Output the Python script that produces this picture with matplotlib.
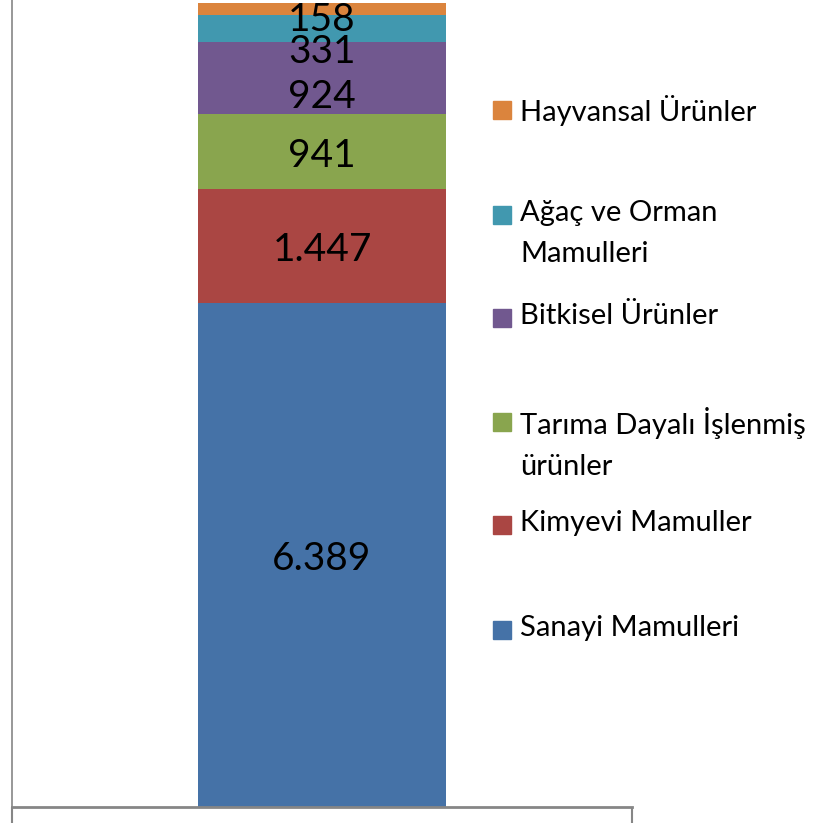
import matplotlib.pyplot as plt
from matplotlib.patches import Rectangle

plt.rcParams['font.family'] = ['Lato', 'DejaVu Sans']

# data, bottom to top
categories = ['Sanayi Mamulleri', 'Kimyevi Mamuller', 'Tarıma Dayalı İşlenmiş\nürünler',
              'Bitkisel Ürünler', 'Ağaç ve Orman\nMamulleri', 'Hayvansal Ürünler']
values = [6389, 1447, 941, 924, 331, 158]
value_labels = ['6.389', '1.447', '941', '924', '331', '158']
colors = ['#4572A7', '#AA4643', '#89A54E', '#71588F', '#4198AF', '#DB843D']

# label nudges in points (Excel moved the crowded top labels down)
label_dy = [-3, -3, -3, -14, -17, -8]

fig = plt.figure(figsize=(8.27, 8.23), dpi=100)
ax = fig.add_axes([12 / 827, 16 / 823, 620 / 827, 807 / 823])

bottom = 0
for val, lab, col, dy in zip(values, value_labels, colors, label_dy):
    ax.bar(0, val, width=0.4, bottom=bottom, color=col, linewidth=0)
    ax.annotate(lab, (0, bottom + val / 2), xytext=(0, dy), textcoords='offset points',
                ha='center', va='center', fontsize=28, color='black')
    bottom += val

ax.set_xlim(-0.5, 0.5)
ax.set_ylim(0, sum(values) * 807 / 804)
ax.set_yticks([])
ax.set_xticks([-0.5, 0.5])
ax.set_xticklabels([])
ax.tick_params(axis='x', direction='out', length=12, width=1.5, color='#868686')
for s in ['top', 'right']:
    ax.spines[s].set_visible(False)
ax.spines['left'].set_color('#868686')
ax.spines['left'].set_linewidth(1.2)
ax.spines['bottom'].set_color('#868686')
ax.spines['bottom'].set_linewidth(2)

# legend, top entry first
legend_y = [110, 215, 318, 422, 525, 630]
for lab, col, y in zip(categories[::-1], colors[::-1], legend_y):
    fy = 1 - y / 823
    fig.patches.append(Rectangle((493 / 827, fy - 9 / 823), 18 / 827, 18 / 823,
                                 transform=fig.transFigure, color=col))
    fig.text(520 / 827, fy + 15 / 823, lab, ha='left', va='top', fontsize=21,
             linespacing=1.7, color='black')

fig.savefig('out.png', dpi=100)
